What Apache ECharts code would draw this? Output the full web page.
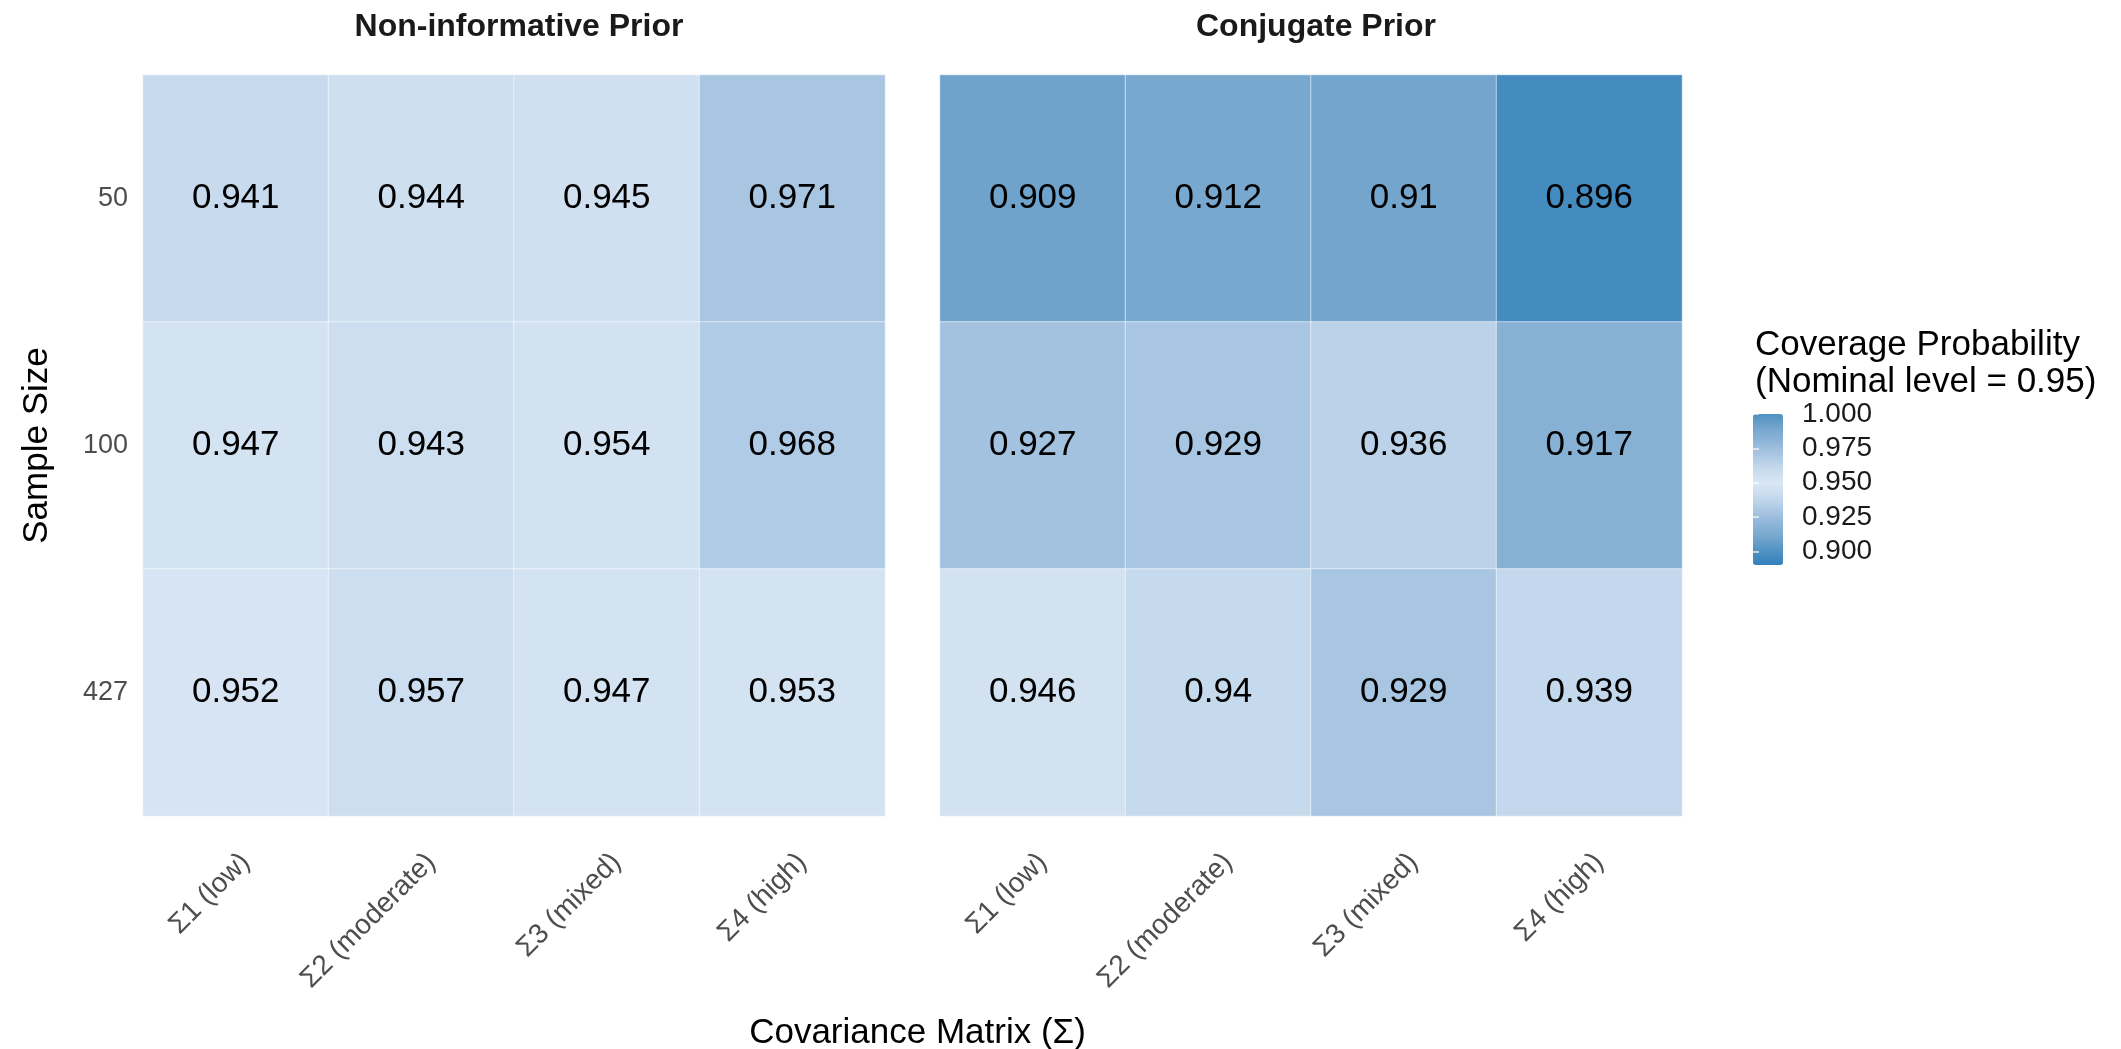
<!DOCTYPE html>
<html>
<head>
<meta charset="utf-8">
<title>Coverage Probability Heatmap</title>
<script src="https://cdn.jsdelivr.net/npm/echarts@6/dist/echarts.min.js"></script>
<style>
  html, body { margin: 0; padding: 0; background: #ffffff; }
  #chart { width: 2121px; height: 1049px; }
</style>
</head>
<body>
<div id="chart"></div>
<script>
// Row and column categories
const sampleSizes = ['50', '100', '427'];
const covarianceLabels = ['Σ1 (low)', 'Σ2 (moderate)', 'Σ3 (mixed)', 'Σ4 (high)'];
const panelTitles = ['Non-informative Prior', 'Conjugate Prior'];

// Coverage probabilities, one row per sample size
const nonInformative = [
  [0.941, 0.944, 0.945, 0.971],
  [0.947, 0.943, 0.954, 0.968],
  [0.952, 0.957, 0.947, 0.953]
];
const conjugate = [
  [0.909, 0.912, 0.91, 0.896],
  [0.927, 0.929, 0.936, 0.917],
  [0.946, 0.94, 0.929, 0.939]
];

// Colour scale range and legend ticks
const scaleMin = 0.89;
const scaleMax = 1.0;
const legendTicks = [0.9, 0.925, 0.95, 0.975, 1.0];

// Diverging palette around the nominal level, one stop every 0.01
const palette = ['#3380bb', '#4f92c3', '#73a5cd', '#8fb5d9', '#abc7e3', '#c6daed',
                 '#dae7f4', '#c6daed', '#abc7e3', '#8fb5d9', '#73a5cd', '#4f92c3'];

const FONT = "'Liberation Sans', Arial, Helvetica, sans-serif";

function toCells(matrix) {
  const out = [];
  matrix.forEach((row, i) => row.forEach((v, j) => out.push([j, i, v])));
  return out;
}

const panel = { top: 75, height: 741, width: 742 };
const panelLefts = [143, 940];
const legendBox = { left: 1753, top: 414, width: 30, height: 151 };

const chart = echarts.init(document.getElementById('chart'), null, { renderer: 'canvas' });

const grids = panelLefts.map(l => ({ left: l, top: panel.top, width: panel.width, height: panel.height }));
grids.push({ left: legendBox.left, top: legendBox.top, width: legendBox.width, height: legendBox.height });

const xAxes = [0, 1].map(g => ({
  type: 'category',
  gridIndex: g,
  data: covarianceLabels,
  axisLine: { show: false },
  axisTick: { show: false },
  splitLine: { show: false },
  axisLabel: { rotate: 45, fontSize: 28, color: '#4d4d4d', fontFamily: FONT,
               margin: 32, verticalAlign: 'top' }
}));
xAxes.push({ type: 'value', gridIndex: 2, show: false, min: 0, max: 1 });

const yAxes = [0, 1].map(g => ({
  type: 'category',
  gridIndex: g,
  data: sampleSizes,
  inverse: true,
  axisLine: { show: false },
  axisTick: { show: false },
  splitLine: { show: false },
  axisLabel: { show: g === 0, fontSize: 27, color: '#4d4d4d', fontFamily: FONT, margin: 15 },
  name: g === 0 ? 'Sample Size' : '',
  nameLocation: 'middle',
  nameGap: 88,
  nameTextStyle: { fontSize: 35, color: '#000000', fontFamily: FONT }
}));
// Legend scale: labels and white ticks on the right, ticks on the left
yAxes.push({
  type: 'value', gridIndex: 2, min: scaleMin, max: scaleMax, position: 'right',
  axisLine: { show: false },
  splitLine: { show: false },
  axisTick: { show: true, inside: true, length: 6, customValues: legendTicks,
              lineStyle: { color: 'rgba(255,255,255,0.8)', width: 1.5 } },
  axisLabel: { customValues: legendTicks, fontSize: 28, color: '#1a1a1a', fontFamily: FONT,
               margin: 19, formatter: v => v.toFixed(3) },
  z: 10
});
yAxes.push({
  type: 'value', gridIndex: 2, min: scaleMin, max: scaleMax, position: 'left',
  axisLine: { show: false },
  splitLine: { show: false },
  axisTick: { show: true, inside: true, length: 6, customValues: legendTicks,
              lineStyle: { color: 'rgba(255,255,255,0.8)', width: 1.5 } },
  axisLabel: { show: false },
  z: 10
});

const heatSeries = [nonInformative, conjugate].map((m, g) => ({
  type: 'heatmap',
  xAxisIndex: g,
  yAxisIndex: g,
  data: toCells(m),
  itemStyle: { borderColor: 'rgba(255,255,255,0.55)', borderWidth: 1 },
  label: {
    show: true,
    fontSize: 35,
    color: '#000000',
    fontFamily: FONT,
    formatter: p => String(p.value[2])
  },
  emphasis: { disabled: true }
}));

const option = {
  backgroundColor: '#ffffff',
  animation: false,
  textStyle: { fontFamily: FONT },
  title: [
    { text: panelTitles[0], left: panelLefts[0] + panel.width / 2, textAlign: 'center', top: 6,
      textStyle: { fontSize: 32, fontWeight: 'bold', color: '#1a1a1a', fontFamily: FONT } },
    { text: panelTitles[1], left: panelLefts[1] + panel.width / 2, textAlign: 'center', top: 6,
      textStyle: { fontSize: 32, fontWeight: 'bold', color: '#1a1a1a', fontFamily: FONT } },
    { text: 'Covariance Matrix (Σ)', left: (panelLefts[0] + panelLefts[1] + panel.width) / 2,
      textAlign: 'center', top: 1011,
      textStyle: { fontSize: 35, fontWeight: 'normal', color: '#000000', fontFamily: FONT } },
    { text: 'Coverage Probability\n(Nominal level = 0.95)', left: 1750, top: 322,
      textStyle: { fontSize: 35, fontWeight: 'normal', color: '#000000', fontFamily: FONT, lineHeight: 37 } }
  ],
  grid: grids,
  xAxis: xAxes,
  yAxis: yAxes,
  visualMap: {
    type: 'continuous',
    seriesIndex: [0, 1],
    min: scaleMin,
    max: scaleMax,
    orient: 'vertical',
    left: legendBox.left,
    top: legendBox.top,
    itemWidth: legendBox.width,
    itemHeight: legendBox.height,
    padding: 0,
    calculable: false,
    hoverLink: false,
    inRange: { color: palette }
  },
  series: heatSeries
};

chart.setOption(option);
</script>
</body>
</html>
